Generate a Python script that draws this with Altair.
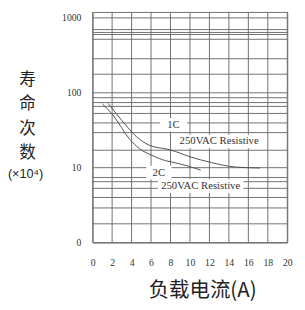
import altair as alt
import pandas as pd

# ---- data ----
c1_x = [1.6, 2.8, 4.5, 5.8, 7.5, 8.0, 10.0, 12.2, 14.7, 17.2]
c1_y = [72, 46, 26, 20, 17.8, 17.2, 14.0, 11.7, 10.2, 9.9]
c2_x = [1.0, 2.1, 3.8, 4.8, 6.2, 7.5, 8.0, 9.8, 11.1]
c2_y = [71, 50, 24, 18, 14.4, 12.4, 12.0, 10.5, 9.3]

x_ticks = [0, 2, 4, 6, 8, 10, 12, 14, 16, 18, 20]
y_ticks = [1, 10, 100, 1000]
grid_h = [1, 1.78, 2.9, 4.0, 5.3, 6.5, 7.4,
          10, 17.1, 29.4, 39.6, 53, 65.8, 74, 86,
          100, 177, 285, 518, 600, 639, 698, 1000]

ann_text = ["1C", "250VAC Resistive", "2C", "250VAC Resistive"]
ann_x = [8.3, 13.0, 6.8, 11.1]
ann_y = [37.3, 22.4, 8.6, 5.67]
ann_halfw = [1.4, 4.6, 1.3, 4.4]      # half width in x units
ann_halfh = [7, 7, 7, 7]              # half height in px

W, H = 200, 237
xs = alt.Scale(domain=[0, 20], nice=False, zero=False)
ys = alt.Scale(type="log", domain=[1, 1200], nice=False)

grid_color = "#6f6f6f"

x_axis = alt.Axis(
    values=x_ticks, grid=False, ticks=False, tickSize=0, domain=False,
    labelPadding=16, labelFont="Liberation Serif", labelFontSize=10,
    labelColor="#333", title=None, labelFlush=False, labelOverlap=False)
y_axis = alt.Axis(
    values=y_ticks, grid=False, ticks=False, tickSize=0, domain=False,
    labelPadding=12, labelFont="Liberation Serif", labelFontSize=10,
    labelColor="#333", title=None, labelOverlap=False,
    labelExpr="datum.value == 1 ? '0' : format(datum.value, 'd')")

X = lambda f: alt.X(f, scale=xs, axis=x_axis)
Y = lambda f: alt.Y(f, scale=ys, axis=y_axis)

hgrid = alt.Chart(pd.DataFrame({"y": grid_h})).mark_rule(
    color=grid_color, strokeWidth=1
).encode(y=Y("y:Q"))

vgrid = alt.Chart(pd.DataFrame({"x": x_ticks})).mark_rule(
    color=grid_color, strokeWidth=1
).encode(x=X("x:Q"))

ann = pd.DataFrame({"t": ann_text, "x": ann_x, "y": ann_y,
                    "hw": ann_halfw, "hh": ann_halfh})

boxes = alt.Chart(ann).transform_calculate(
    x1="datum.x - datum.hw", x2="datum.x + datum.hw",
    y1="datum.y * pow(10, -datum.hh/77)", y2="datum.y * pow(10, datum.hh/77)"
).mark_rect(color="white").encode(
    x=X("x1:Q"), x2="x2:Q",
    y=Y("y1:Q"), y2="y2:Q"
)

curves_df = pd.concat([
    pd.DataFrame({"s": "1C", "x": c1_x, "y": c1_y, "o": range(len(c1_x))}),
    pd.DataFrame({"s": "2C", "x": c2_x, "y": c2_y, "o": range(len(c2_x))}),
])
curves = alt.Chart(curves_df).mark_line(
    color="#505050", strokeWidth=1, interpolate="monotone"
).encode(
    x=X("x:Q"), y=Y("y:Q"),
    detail="s:N", order="o:Q"
)

labels = alt.Chart(ann).mark_text(
    font="Liberation Serif", fontSize=11, color="#333"
).encode(
    x=X("x:Q"), y=Y("y:Q"), text="t:N"
)

one = pd.DataFrame({"a": [0]})
ytitle_chars = ["寿", "命", "次", "数"]
ytitle_y = [70, 95, 120, 145]
ytitle = [
    alt.Chart(one).mark_text(font="Noto Sans CJK SC", fontSize=17,
                             color="#222", baseline="middle").encode(
        x=alt.value(-67), y=alt.value(yy), text=alt.value(ch))
    for ch, yy in zip(ytitle_chars, ytitle_y)
]
ysub = alt.Chart(one).mark_text(font="Liberation Sans", fontSize=13,
                                color="#222", baseline="middle").encode(
    x=alt.value(-69), y=alt.value(167), text=alt.value("(×10⁴)"))
xtitle = alt.Chart(one).mark_text(font="Noto Sans CJK SC", fontSize=21,
                                  color="#222", baseline="middle").encode(
    x=alt.value(113), y=alt.value(287), text=alt.value("负载电流(A)"))

chart = alt.layer(
    hgrid, vgrid, boxes, curves, labels, *ytitle, ysub, xtitle
).properties(
    width=W, height=H,
    autosize=alt.AutoSizeParams(type="none"),
    padding={"left": 87, "top": 0, "right": 10, "bottom": 57},
).configure_view(stroke=grid_color, strokeWidth=1)

chart.save("out.html", embed_options={"renderer": "svg", "actions": False})
